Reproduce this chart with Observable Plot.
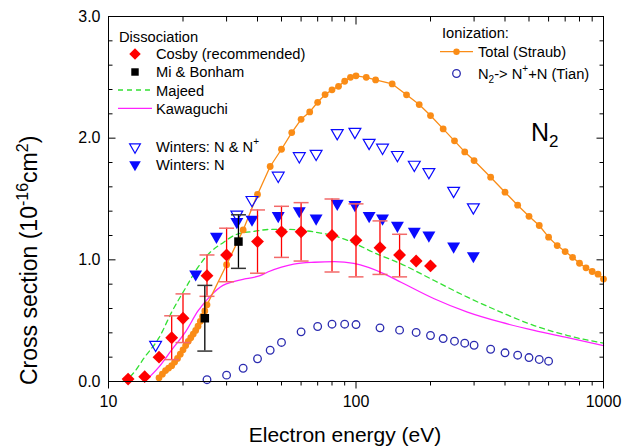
<!DOCTYPE html>
<html>
<head>
<meta charset="utf-8">
<script src="https://cdn.jsdelivr.net/npm/d3@7"></script>
<script src="https://cdn.jsdelivr.net/npm/@observablehq/plot@0.6"></script>
<style>
  html, body { margin: 0; padding: 0; background: #fff; }
  #chart { width: 623px; height: 446px; }
  svg text { font-family: "Liberation Sans", Arial, sans-serif; }
</style>
</head>
<body>
<div id="chart"></div>
<script>
// ---- Ionization: total cross section (Straub)
const straubE = [16, 16.5, 17, 17.5, 18, 18.5, 19, 19.5, 20, 20.5, 21, 21.5, 22, 22.5, 23, 23.5, 24, 24.5, 25,
  30, 35, 40, 45, 50, 55, 60, 65, 70, 75, 80, 85, 90, 95, 100, 110, 120, 140, 160, 180, 200, 225, 250, 275, 300,
  350, 400, 450, 500, 550, 600, 650, 700, 750, 800, 850, 900, 950, 1000];
const straubV = [0.03, 0.06, 0.09, 0.11, 0.13, 0.16, 0.19, 0.225, 0.26, 0.295, 0.33, 0.36, 0.39, 0.42, 0.455, 0.495, 0.535, 0.58, 0.63,
  0.96, 1.246, 1.537, 1.767, 1.909, 2.046, 2.155, 2.216, 2.295, 2.358, 2.397, 2.426, 2.468, 2.50, 2.512, 2.50, 2.479, 2.446, 2.356, 2.276, 2.186,
  2.076, 1.978, 1.887, 1.816, 1.679, 1.556, 1.449, 1.358, 1.282, 1.186, 1.117, 1.068, 1.021, 0.972, 0.934, 0.904, 0.882, 0.842];

// ---- Ionization: N2 -> N+ + N (Tian)
const tianE = [25, 30, 35, 40, 45, 50, 60, 70, 80, 90, 100, 125, 150, 175, 200, 225, 250, 275, 300, 350, 400, 450, 500, 550, 600];
const tianV = [0.015, 0.052, 0.109, 0.187, 0.257, 0.321, 0.408, 0.452, 0.471, 0.471, 0.468, 0.441, 0.422, 0.403, 0.378, 0.353,
  0.331, 0.315, 0.298, 0.265, 0.236, 0.216, 0.197, 0.181, 0.167];

// ---- Dissociation: Cosby (recommended), with error bars where measured
const cosbyE = [12, 14, 16, 18, 20, 25, 30, 40, 50, 60, 80, 100, 125, 150, 175, 200];
const cosbyV = [0.02, 0.04, 0.20, 0.36, 0.52, 0.87, 1.04, 1.15, 1.23, 1.23, 1.20, 1.16, 1.10, 1.04, 0.99, 0.95];
const cosbyLo = [null, null, null, 0.18, 0.32, 0.70, 0.82, 0.89, 1.02, 0.99, 0.90, 0.86, 0.88, 0.86, null, null];
const cosbyHi = [null, null, null, 0.54, 0.72, 1.04, 1.26, 1.41, 1.44, 1.47, 1.50, 1.46, 1.32, 1.21, null, null];

// ---- Dissociation: Mi & Bonham
const miE = [24.5, 33.5];
const miV = [0.52, 1.15];
const miLo = [0.25, 0.93];
const miHi = [0.79, 1.37];

// ---- Dissociation: Majeed (dashed) and Kawaguchi (solid) curves
const majeedE = [11.4, 12.5, 14, 16, 18, 20.5, 23, 26, 28.5, 33, 39, 45, 53, 62, 72, 84, 100, 118, 152, 207, 282, 385, 524, 716, 1000];
const majeedV = [0, 0.06, 0.2, 0.36, 0.57, 0.77, 0.94, 1.07, 1.13, 1.21, 1.235, 1.25, 1.25, 1.24, 1.22, 1.19, 1.13, 1.06, 0.967,
  0.83, 0.693, 0.57, 0.46, 0.378, 0.315];
const kawaE = [14, 16, 18, 20.5, 23, 26, 29, 32, 36, 41, 44, 50, 56, 68, 82, 98, 130, 152, 207, 282, 385, 524, 716, 1000];
const kawaV = [0, 0.12, 0.26, 0.41, 0.58, 0.71, 0.79, 0.82, 0.845, 0.87, 0.9, 0.94, 0.965, 0.98, 0.985, 0.97, 0.885, 0.816,
  0.68, 0.57, 0.487, 0.42, 0.36, 0.295];

// ---- Dissociation: Winters
const wintersNNE = [15.5, 33, 38, 48.5, 59, 69, 84, 99, 113, 128, 147, 172, 197, 248, 298];
const wintersNNV = [0.29, 1.36, 1.48, 1.68, 1.84, 1.86, 2.03, 2.04, 1.95, 1.91, 1.85, 1.77, 1.71, 1.555, 1.42];
const wintersNE = [22.5, 27.3, 33, 38, 48.5, 59, 69, 84, 99, 113, 128, 147, 172, 197, 248, 298];
const wintersNV = [0.87, 1.18, 1.30, 1.32, 1.35, 1.39, 1.33, 1.45, 1.44, 1.35, 1.33, 1.27, 1.22, 1.19, 1.10, 1.02];

// ---- Axis ticks
const xMajor = [10, 100, 1000];
const xMinor = [20, 30, 40, 50, 60, 70, 80, 90, 200, 300, 400, 500, 600, 700, 800, 900];
const yMajor = [0, 1, 2, 3];
const yMinor = [0.2, 0.4, 0.6, 0.8, 1.2, 1.4, 1.6, 1.8, 2.2, 2.4, 2.6, 2.8];

// ---- Colours
const ORANGE = "#fa8c16", RED = "#ff0000", CAP = "#f26a6a", BLUE = "#0a0aff", NAVY = "#2b2bb0",
      GREEN = "#33e033", MAGENTA = "#ff22ff";

const pts = (E, V) => E.map((e, i) => ({E: e, v: V[i]}));
const bars = (E, V, lo, hi) => E.map((e, i) => ({E: e, v: V[i], lo: lo[i], hi: hi[i]})).filter(d => d.lo != null);

const straub = pts(straubE, straubV);
const tian = pts(tianE, tianV);
const cosby = pts(cosbyE, cosbyV);
const cosbyBars = bars(cosbyE, cosbyV, cosbyLo, cosbyHi);
const mi = pts(miE, miV);
const miBars = bars(miE, miV, miLo, miHi);
const majeed = pts(majeedE, majeedV);
const kawa = pts(kawaE, kawaV);
const wNN = pts(wintersNNE, wintersNNV);
const wN = pts(wintersNE, wintersNV);

// Custom path symbols: short segments for tick marks and error-bar caps
const seg = (dx, dy) => ({draw(ctx) { ctx.moveTo(0, 0); ctx.lineTo(dx, dy); }});
const cap = {draw(ctx) { ctx.moveTo(-7.5, 0); ctx.lineTo(7.5, 0); }};

const tickStyle = {stroke: "black", strokeWidth: 1, fill: "none"};

const chart = Plot.plot({
  width: 623,
  height: 446,
  marginLeft: 108,
  marginRight: 20,
  marginTop: 16,
  marginBottom: 65,
  style: {background: "#fff", color: "#000", fontFamily: '"Liberation Sans", Arial, sans-serif', fontSize: "16px", overflow: "visible"},
  x: {type: "log", domain: [10, 1000], label: null},
  y: {domain: [0, 3], label: null},
  marks: [
    // theory curves
    Plot.line(majeed, {x: "E", y: "v", stroke: GREEN, strokeWidth: 1.3, strokeDasharray: "5,4", curve: "monotone-x"}),
    Plot.line(kawa, {x: "E", y: "v", stroke: MAGENTA, strokeWidth: 1.3, curve: "monotone-x"}),
    // ionization
    Plot.line(straub, {x: "E", y: "v", stroke: ORANGE, strokeWidth: 1.3}),
    Plot.dot(straub, {x: "E", y: "v", r: 3.4, fill: ORANGE}),
    Plot.dot(tian, {x: "E", y: "v", r: 3.8, stroke: NAVY, strokeWidth: 1.3, fill: "none"}),
    // Winters
    Plot.dot(wNN, {x: "E", y: "v", symbol: "triangle", rotate: 180, r: 4.4, dy: -1.5, stroke: BLUE, strokeWidth: 1.2, fill: "none"}),
    Plot.dot(wN, {x: "E", y: "v", symbol: "triangle", rotate: 180, r: 4.8, dy: -1.5, fill: BLUE}),
    // error bars
    Plot.ruleX(cosbyBars, {x: "E", y1: "lo", y2: "hi", stroke: RED, strokeWidth: 1.3}),
    Plot.dot(cosbyBars, {x: "E", y: "lo", symbol: cap, stroke: CAP, strokeWidth: 1.5}),
    Plot.dot(cosbyBars, {x: "E", y: "hi", symbol: cap, stroke: CAP, strokeWidth: 1.5}),
    Plot.ruleX(miBars, {x: "E", y1: "lo", y2: "hi", stroke: "black", strokeWidth: 1.3}),
    Plot.dot(miBars, {x: "E", y: "lo", symbol: cap, stroke: "#333", strokeWidth: 1.5}),
    Plot.dot(miBars, {x: "E", y: "hi", symbol: cap, stroke: "#333", strokeWidth: 1.5}),
    // dissociation points
    Plot.dot(cosby, {x: "E", y: "v", symbol: "diamond2", r: 5.8, fill: RED}),
    Plot.dot(mi, {x: "E", y: "v", symbol: "square", r: 4.8, fill: "black"}),
    // frame and ticks
    Plot.frame({stroke: "black", strokeWidth: 1}),
    Plot.dot(yMajor, {y: d => d, frameAnchor: "left", symbol: seg(7, 0), ...tickStyle}),
    Plot.dot(yMinor, {y: d => d, frameAnchor: "left", symbol: seg(4, 0), ...tickStyle}),
    Plot.dot(yMajor, {y: d => d, frameAnchor: "right", symbol: seg(-7, 0), ...tickStyle}),
    Plot.dot(yMinor, {y: d => d, frameAnchor: "right", symbol: seg(-4, 0), ...tickStyle}),
    Plot.dot(xMajor, {x: d => d, frameAnchor: "bottom", symbol: seg(0, 7), ...tickStyle}),
    Plot.dot(xMinor, {x: d => d, frameAnchor: "bottom", symbol: seg(0, 4), ...tickStyle}),
    Plot.dot(xMajor, {x: d => d, frameAnchor: "top", symbol: seg(0, 8), ...tickStyle}),
    Plot.dot(xMinor, {x: d => d, frameAnchor: "top", symbol: seg(0, 5), ...tickStyle}),
    // tick labels
    Plot.axisX({ticks: xMajor, tickSize: 0, tickPadding: 14, tickFormat: d => String(d), fontSize: 16, label: null}),
    Plot.axisY({ticks: yMajor, tickSize: 0, tickPadding: 8, tickFormat: d3.format(".1f"), fontSize: 16, label: null})
  ]
});

document.getElementById("chart").appendChild(chart);

// ---- Titles, legends and annotation drawn into the same SVG
const svg = d3.select(chart);
const FONT = '"Liberation Sans", Arial, sans-serif';

svg.append("text")
  .attr("x", 345).attr("y", 442)
  .attr("text-anchor", "middle")
  .style("font-size", "21px").style("font-family", FONT).attr("fill", "#000")
  .text("Electron energy (eV)");

const yt = svg.append("text")
  .attr("transform", "translate(37,385) rotate(-90)")
  .attr("text-anchor", "start")
  .style("font-size", "23px").style("font-family", FONT).attr("fill", "#000");
yt.append("tspan").text("Cross section (10");
yt.append("tspan").attr("dy", -9).style("font-size", "16px").text("-16");
yt.append("tspan").attr("dy", 9).text("cm");
yt.append("tspan").attr("dy", -9).style("font-size", "16px").text("2");
yt.append("tspan").attr("dy", 9).text(")");

// N2 annotation
const n2 = svg.append("text").attr("x", 531).attr("y", 141).attr("text-anchor", "start")
  .style("font-size", "25px").style("font-family", FONT).attr("fill", "#000");
n2.append("tspan").text("N");
n2.append("tspan").attr("dy", 6).style("font-size", "17px").text("2");

const sym = (type, r) => d3.symbol(type, r * r * Math.PI)();
const LF = "14.7px";

function legText(x, y, parts) {
  const t = svg.append("text").attr("x", x).attr("y", y).attr("text-anchor", "start")
    .style("font-size", LF).style("font-family", FONT).attr("fill", "#000");
  for (const p of parts) {
    const s = t.append("tspan").text(p.t);
    if (p.dy) s.attr("dy", p.dy);
    if (p.fs) s.style("font-size", p.fs);
  }
  return t;
}

// left legend: dissociation
legText(119, 41.5, [{t: "Dissociation"}]);
svg.append("path").attr("d", sym(d3.symbolDiamond2, 5.2)).attr("transform", "translate(135,54)").attr("fill", RED);
legText(156, 59, [{t: "Cosby (recommended)"}]);
svg.append("path").attr("d", sym(d3.symbolSquare, 4.2)).attr("transform", "translate(135,72)").attr("fill", "black");
legText(156, 77.3, [{t: "Mi & Bonham"}]);
svg.append("line").attr("x1", 118).attr("x2", 152).attr("y1", 90).attr("y2", 90)
  .attr("stroke", GREEN).attr("stroke-width", 1.3).attr("stroke-dasharray", "5,4");
legText(156, 95.5, [{t: "Majeed"}]);
svg.append("line").attr("x1", 118).attr("x2", 152).attr("y1", 108.3).attr("y2", 108.3)
  .attr("stroke", MAGENTA).attr("stroke-width", 1.3);
legText(156, 113.8, [{t: "Kawaguchi"}]);
svg.append("path").attr("d", sym(d3.symbolTriangle, 4.0)).attr("transform", "translate(135,147) rotate(180)")
  .attr("fill", "none").attr("stroke", BLUE).attr("stroke-width", 1.2);
legText(156, 152.2, [{t: "Winters: N & N"}, {t: "+", dy: -7, fs: "10px"}]);
svg.append("path").attr("d", sym(d3.symbolTriangle, 4.3)).attr("transform", "translate(135,164.5) rotate(180)")
  .attr("fill", BLUE);
legText(156, 169.8, [{t: "Winters: N"}]);

// right legend: ionization
legText(442, 38.3, [{t: "Ionization:"}]);
svg.append("line").attr("x1", 440).attr("x2", 473).attr("y1", 51.7).attr("y2", 51.7)
  .attr("stroke", ORANGE).attr("stroke-width", 1.3);
svg.append("circle").attr("cx", 456.5).attr("cy", 51.7).attr("r", 3.2).attr("fill", ORANGE);
legText(478, 56.8, [{t: "Total (Straub)"}]);
svg.append("circle").attr("cx", 456.5).attr("cy", 73.5).attr("r", 3.8)
  .attr("fill", "none").attr("stroke", NAVY).attr("stroke-width", 1.3);
legText(478, 79, [{t: "N"}, {t: "2", dy: 4, fs: "10px"}, {t: "-> N", dy: -4}, {t: "+", dy: -7, fs: "10px"}, {t: "+N (Tian)", dy: 7}]);
</script>
</body>
</html>
